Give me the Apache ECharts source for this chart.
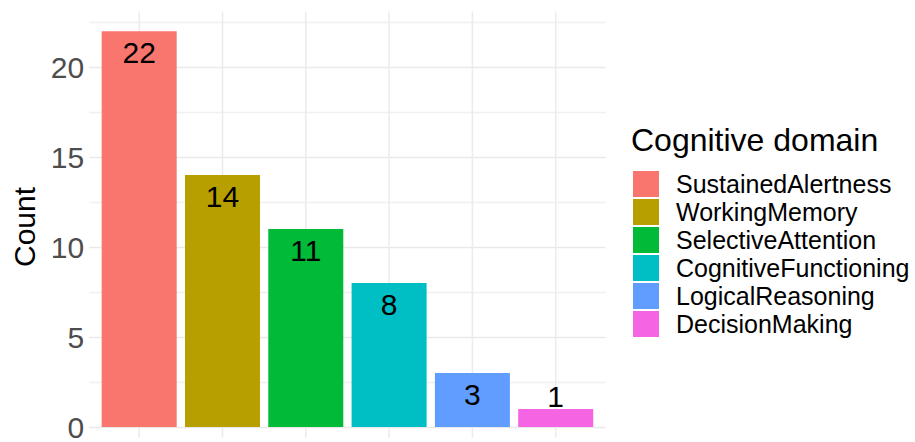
<!DOCTYPE html>
<html>
<head>
<meta charset="utf-8">
<script src="https://cdn.jsdelivr.net/npm/echarts@6/dist/echarts.min.js"></script>
<style>
  html, body { margin: 0; padding: 0; background: #fff; }
  #chart { width: 915px; height: 442px; }
</style>
</head>
<body>
<div id="chart"></div>
<script>
const categories = ['SustainedAlertness', 'WorkingMemory', 'SelectiveAttention', 'CognitiveFunctioning', 'LogicalReasoning', 'DecisionMaking'];
const counts = [22, 14, 11, 8, 3, 1];
const colors = ['#F8766D', '#B79F00', '#00BA38', '#00BFC4', '#619CFF', '#F564E3'];
const yTickLabels = [0, 5, 10, 15, 20];
const legendTitle = 'Cognitive domain';
const yTitle = 'Count';

const FONT = '"Liberation Sans", Arial, Helvetica, sans-serif';
const chart = echarts.init(document.getElementById('chart'), null, { renderer: 'svg' });

const series = categories.map((name, i) => ({
  name: name,
  type: 'bar',
  data: [[i + 1, counts[i]]],
  barWidth: 75,
  barGap: '-100%',
  itemStyle: { color: colors[i] },
  label: {
    show: true,
    position: counts[i] < 2 ? 'top' : 'insideTop',
    distance: counts[i] < 2 ? -2 : 6,
    fontSize: 30,
    fontFamily: FONT,
    color: '#000',
    formatter: (p) => String(p.value[1])
  },
  emphasis: { disabled: true },
  z: 2
}));

// vertical major grid lines at each discrete x position, spanning the full panel (with ggplot expansion)
series.push({
  name: '_xgrid',
  type: 'custom',
  silent: true,
  clip: false,
  z: 1,
  data: categories.map((c, i) => [i + 1, 0]),
  encode: { x: 0, y: 1 },
  renderItem: (params, api) => {
    const x = api.value(0);
    const p1 = api.coord([x, -0.6]);
    const p2 = api.coord([x, 23.1]);
    return {
      type: 'line',
      shape: { x1: p1[0], y1: p1[1], x2: p2[0], y2: p2[1] },
      style: { stroke: '#ebebeb', lineWidth: 1.5 }
    };
  }
});

chart.setOption({
  animation: false,
  backgroundColor: '#fff',
  textStyle: { fontFamily: FONT },
  grid: { left: 89.2, right: 309.3, top: 22.2, bottom: 11, containLabel: false },
  xAxis: {
    type: 'value',
    min: 0.4,
    max: 6.6,
    axisLine: { show: false },
    axisTick: { show: false },
    axisLabel: { show: false },
    splitLine: { show: false }
  },
  yAxis: {
    type: 'value',
    min: 0,
    max: 22.5,
    interval: 2.5,
    axisLine: { show: false },
    axisTick: { show: false },
    axisLabel: {
      fontSize: 30,
      color: '#4d4d4d',
      margin: 5,
      padding: [0, 0, 8, 0],
      fontFamily: FONT,
      formatter: (v) => (yTickLabels.indexOf(v) >= 0 ? String(v) : '')
    },
    splitLine: { show: true, lineStyle: { color: ['#e9e9e9', '#f0f0f0'], width: 1.3 } }
  },
  legend: {
    data: categories,
    orient: 'vertical',
    left: 633,
    top: 171,
    padding: 0,
    itemWidth: 26,
    itemHeight: 26,
    itemGap: 2,
    icon: 'rect',
    selectedMode: false,
    textStyle: { fontSize: 25, color: '#000', fontFamily: FONT, padding: [0, 0, 0, 12] }
  },
  title: {
    text: legendTitle,
    left: 631,
    top: 124,
    padding: 0,
    textStyle: { fontSize: 32, fontWeight: 'normal', color: '#000', fontFamily: FONT }
  },
  graphic: [
    {
      type: 'text',
      z: 100,
      x: 24,
      y: 227,
      rotation: Math.PI / 2,
      silent: true,
      style: {
        text: yTitle,
        fontSize: 30,
        fontFamily: FONT,
        fill: '#000',
        align: 'center',
        verticalAlign: 'middle'
      }
    }
  ],
  series: series
});
</script>
</body>
</html>
